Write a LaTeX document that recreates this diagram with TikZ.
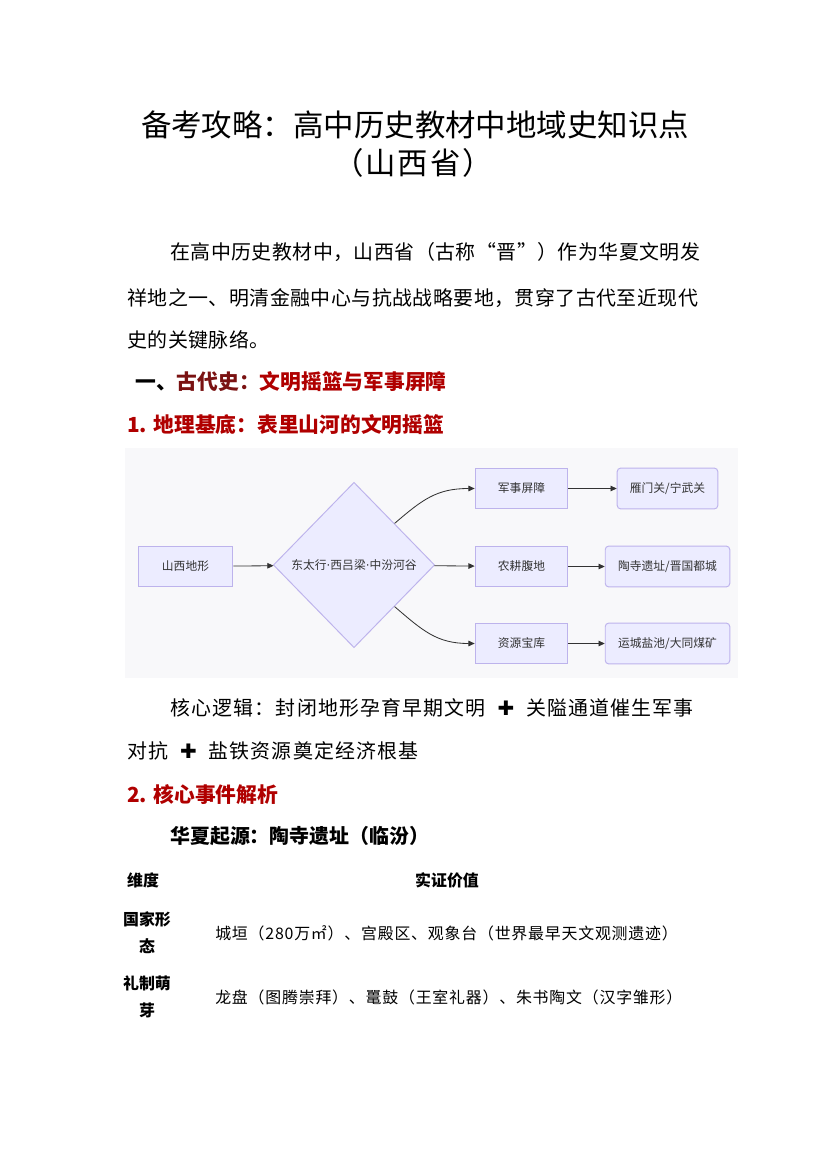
\documentclass[tikz,border=0pt]{standalone}
\usepackage{fontspec}
\setmainfont{Noto Sans CJK SC}
\newfontfamily\symfont{DejaVu Sans}
\usetikzlibrary{shapes.geometric,arrows.meta}
\definecolor{headred}{HTML}{B00000}
\definecolor{headdark}{HTML}{7A1212}
\definecolor{boxfill}{HTML}{ECECFF}
\definecolor{boxline}{HTML}{BDB3EC}
\definecolor{flowtext}{HTML}{333333}
\definecolor{flowbg}{HTML}{F8F8FA}
\newcommand{\plusmark}{\hspace{8.5pt}{\symfont\bfseries ✚}\hspace{8.5pt}}
\newcommand{\dotmark}{{\symfont ·}}

\begin{document}
\begin{tikzpicture}[x=0.254mm,y=-0.254mm,
    flowbox/.style={draw=boxline,fill=boxfill,line width=0.7pt,minimum height=29.5pt,inner sep=0pt,font=\fontsize{8.5}{10}\selectfont,text=flowtext},
    endbox/.style={flowbox,rounded corners=2.5pt},
    flowarrow/.style={-{Triangle[length=4.5pt,width=4pt]},draw=flowtext,line width=0.6pt},
    bodyline/.style={anchor=west,inner sep=0pt,font=\fontsize{14.4}{17}\selectfont\addfontfeatures{LetterSpace=2.4}},
    logicline/.style={bodyline,font=\fontsize{14.4}{17}\selectfont\addfontfeatures{LetterSpace=6}},
    headline/.style={anchor=west,inner sep=0pt,font=\fontsize{15}{18}\selectfont\bfseries,text=headred},
    cellhead/.style={inner sep=0pt,font=\fontsize{11.5}{19.4}\selectfont\bfseries,align=center},
    celltext/.style={anchor=west,inner sep=0pt,font=\fontsize{11.5}{14}\selectfont\addfontfeatures{LetterSpace=5}}]
  \useasboundingbox[fill=white] (0,0) rectangle (827,1169);

  % title
  \node[font=\fontsize{22}{26}\selectfont] (title) at (415,125) {备考攻略：高中历史教材中地域史知识点};
  \node[font=\fontsize{22}{26}\selectfont\addfontfeatures{LetterSpace=6}] (subtitle) at (413,163) {（山西省）};

  % intro
  \node[bodyline] (intro1) at (170,252) {在高中历史教材中，山西省（古称“晋”）作为华夏文明发};
  \node[bodyline] (intro2) at (127,298) {祥地之一、明清金融中心与抗战战略要地，贯穿了古代至近现代};
  \node[bodyline] (intro3) at (127,340) {史的关键脉络。};

  \node[headline] (sec1) at (135,382) {\textcolor{black}{一、}\textcolor{headdark}{古代史：}文明摇篮与军事屏障};
  \node[headline] (sub1) at (127,425) {1. 地理基底：表里山河的文明摇篮};

  % flowchart
  \fill[flowbg] (125,448) rectangle (738,678);
  \node[flowbox,minimum width=68.4pt] (terrain) at (185.5,566.5) {山西地形};
  \node[diamond,draw=boxline,fill=boxfill,line width=0.7pt,inner sep=0pt,minimum width=116.6pt,minimum height=119.5pt,font=\fontsize{8.5}{10}\selectfont,text=flowtext] (ridge) at (354,565) {东太行\dotmark 西吕梁\dotmark 中汾河谷};
  \node[flowbox,minimum width=67pt] (guard) at (521.5,488.5) {军事屏障};
  \node[flowbox,minimum width=67pt] (farm) at (521.5,566.5) {农耕腹地};
  \node[flowbox,minimum width=67pt] (res) at (521.5,643.5) {资源宝库};
  \node[endbox,minimum width=72.7pt] (pass) at (667.5,488.5) {雁门关/宁武关};
  \node[endbox,minimum width=90pt] (site) at (667.5,566.5) {陶寺遗址/晋国都城};
  \node[endbox,minimum width=90pt] (mine) at (667.5,643.5) {运城盐池/大同煤矿};

  \draw[flowarrow] (terrain) -- (ridge);
  \draw[flowarrow] (ridge.north east) .. controls +(28,-24) and +(-38,0) .. (guard.west);
  \draw[flowarrow] (ridge) -- (farm);
  \draw[flowarrow] (ridge.south east) .. controls +(28,24) and +(-38,0) .. (res.west);
  \draw[flowarrow] (guard) -- (pass);
  \draw[flowarrow] (farm) -- (site);
  \draw[flowarrow] (res) -- (mine);

  % logic
  \node[logicline] (logic1) at (170,708) {核心逻辑：封闭地形孕育早期文明\plusmark 关隘通道催生军事};
  \node[logicline] (logic2) at (127,751) {对抗\plusmark 盐铁资源奠定经济根基};

  \node[headline] (sub2) at (127,795) {2. 核心事件解析};
  \node[bodyline,font=\fontsize{14.4}{17}\selectfont\bfseries] (origin) at (170,836) {华夏起源：陶寺遗址（临汾）};

  % table
  \node[cellhead] (dimhead) at (143,880) {维度};
  \node[cellhead] (valhead) at (447,880) {实证价值};
  \node[cellhead] (dim1) at (147,933) {国家形\\态};
  \node[celltext] (val1) at (215,933) {城垣（280万㎡）、宫殿区、观象台（世界最早天文观测遗迹）};
  \node[cellhead] (dim2) at (147,997) {礼制萌\\芽};
  \node[celltext] (val2) at (215,997) {龙盘（图腾崇拜）、鼍鼓（王室礼器）、朱书陶文（汉字雏形）};
\end{tikzpicture}
\end{document}
